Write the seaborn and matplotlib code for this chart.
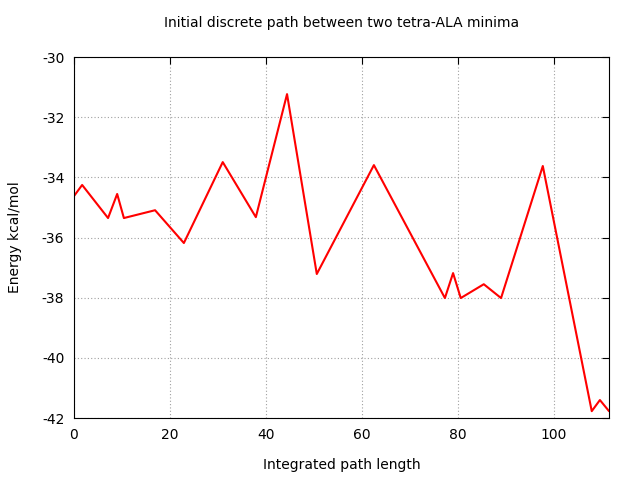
import matplotlib
matplotlib.use("Agg")
import matplotlib.pyplot as plt
import seaborn as sns
import pandas as pd

path_length = [0, 1.7, 7.1, 9.0, 10.4, 16.9, 22.9, 31.0, 37.9, 44.4, 50.6, 62.5,
               77.3, 79.0, 80.6, 85.4, 89.0, 97.7, 107.9, 109.6, 111.5]
energy = [-34.62, -34.25, -35.35, -34.55, -35.35, -35.09, -36.18, -33.49, -35.32,
          -31.23, -37.21, -33.59, -38.01, -37.18, -38.01, -37.55, -38.01, -33.62,
          -41.77, -41.40, -41.77]
df = pd.DataFrame({"x": path_length, "y": energy})

sns.set_style("white")
plt.rcParams['font.family'] = ['DejaVu Sans']
plt.rcParams['axes.unicode_minus'] = False
plt.rcParams['text.color'] = 'black'
plt.rcParams['xtick.color'] = 'black'
plt.rcParams['ytick.color'] = 'black'
plt.rcParams['axes.labelcolor'] = 'black'
fig = plt.figure(figsize=(6.4, 4.8), dpi=100)
ax = fig.add_axes([0.1156, 0.129, 0.836, 0.752])
sns.lineplot(data=df, x="x", y="y", ax=ax, color="red", linewidth=1.5, sort=False)
ax.set_xlim(0, 111.5)
ax.set_ylim(-42, -30)
ax.set_xticks([0, 20, 40, 60, 80, 100])
ax.set_yticks(range(-42, -29, 2))
ax.grid(True, color="#a0a0a0", linestyle=(0, (1, 2)), linewidth=0.8)
for s in ax.spines.values():
    s.set_color("black"); s.set_linewidth(0.8)
ax.tick_params(direction="in", top=True, right=True, length=5, labelsize=10, pad=7)
ax.set_xlabel("Integrated path length", fontsize=10, labelpad=12)
ax.set_ylabel("Energy kcal/mol", fontsize=10, labelpad=14)
ax.set_title("Initial discrete path between two tetra-ALA minima", fontsize=10, pad=22)
fig.savefig("out.png", dpi=100)
